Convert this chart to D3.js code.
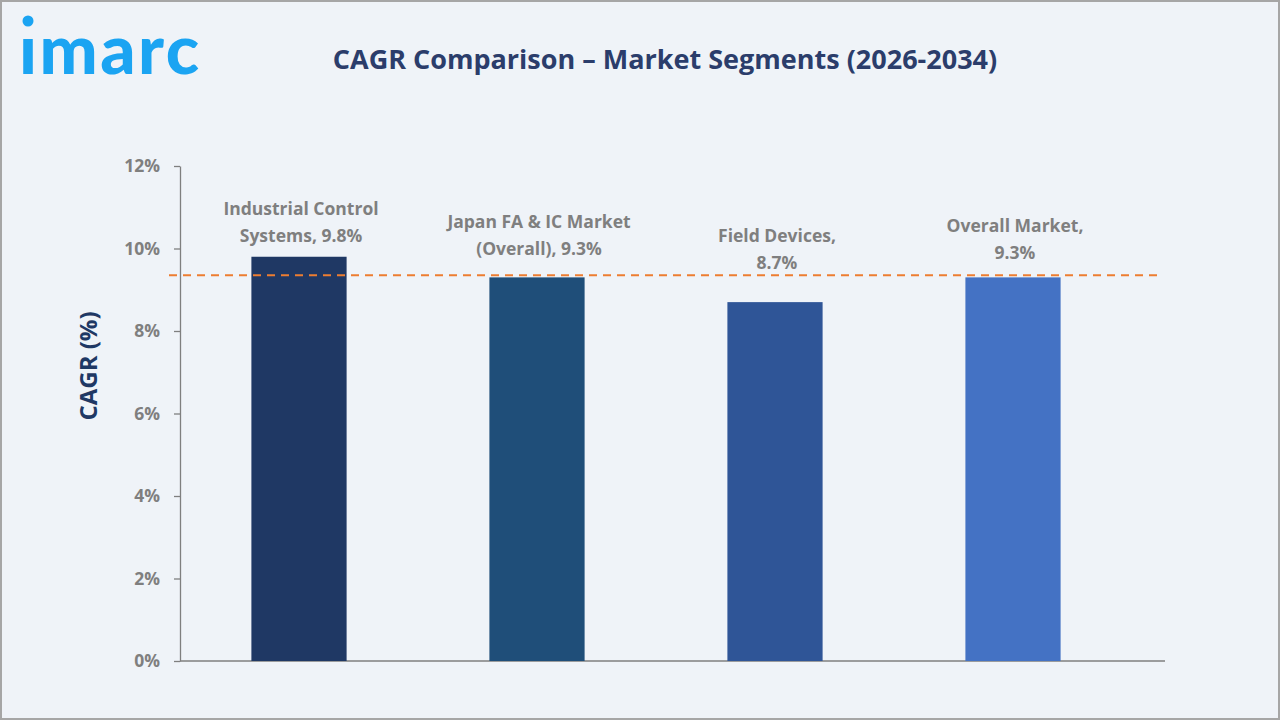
<!DOCTYPE html>
<html>
<head>
<meta charset="utf-8">
<script src="https://cdn.jsdelivr.net/npm/d3@7"></script>
<style>
  html, body { margin: 0; padding: 0; background: #eff3f8; }
  svg { display: block; }
</style>
</head>
<body>
<div id="chart"></div>
<script>
// ── data ─────────────────────────────────────────────
const segments = [
    ['Industrial Control', 'Systems, 9.8%'],
    ['Japan FA & IC Market', '(Overall), 9.3%'],
    ['Field Devices,', '8.7%'],
    ['Overall Market,', '9.3%']
];
const cagrValues = [9.8, 9.3, 8.7, 9.3];
const referenceCagr = 9.35;
const yTicks = [0, 2, 4, 6, 8, 10, 12];

const barColors = ['#1f3864', '#1f4e79', '#2f5597', '#4472c4'];
const labelGap = [21, 28, 39, 24];   // excel labels were nudged by hand

const W = 1280, H = 720;
const FONT = "'Open Sans', 'DejaVu Sans', sans-serif";

const svg = d3.select('#chart').append('svg').attr('width', W).attr('height', H);

svg.append('rect')
    .attr('x', 1).attr('y', 1).attr('width', W - 2).attr('height', H - 2)
    .attr('fill', '#eff3f8').attr('stroke', '#a6a6a6').attr('stroke-width', 2);

// logo
const logo = svg.append('g').attr('fill', '#1ba4f2');
logo.append('circle').attr('cx', 28).attr('cy', 21).attr('r', 5.5);
logo.append('text')
    .attr('x', 19).attr('y', 74)
    .attr('font-family', "Lato, 'Open Sans', sans-serif").attr('font-weight', 900)
    .attr('font-size', 69).attr('letter-spacing', 2.5)
    .text('\u0131marc');

// title
svg.append('text')
    .attr('x', 665).attr('y', 69)
    .attr('text-anchor', 'middle')
    .attr('font-family', FONT).attr('font-weight', 700).attr('font-size', 27)
    .attr('fill', '#2b3d6b')
    .text('CAGR Comparison \u2013 Market Segments (2026-2034)');

// scales
const x = d3.scaleBand().domain(d3.range(segments.length)).range([180, 1132]).paddingInner(0.6).paddingOuter(0.3);
const y = d3.scaleLinear().domain([0, 12]).range([661, 166]);

// y axis
const yAxis = svg.append('g')
    .attr('transform', 'translate(180,0)')
    .call(d3.axisLeft(y).tickValues(yTicks).tickFormat(d => d + '%').tickSize(6).tickSizeOuter(0));
yAxis.select('.domain').attr('stroke', '#7f7f7f').attr('stroke-width', 1.3);
yAxis.selectAll('.tick line').attr('stroke', '#7f7f7f').attr('stroke-width', 1.3);
yAxis.selectAll('.tick text')
    .attr('x', -20)
    .attr('fill', '#7f7f7f').attr('font-family', FONT).attr('font-weight', 700).attr('font-size', 17.5);

// x axis line
svg.append('line')
    .attr('x1', 180).attr('x2', 1165).attr('y1', y(0)).attr('y2', y(0))
    .attr('stroke', '#7f7f7f').attr('stroke-width', 1.5);

// y axis title
svg.append('text')
    .attr('transform', 'translate(97,366) rotate(-90)')
    .attr('text-anchor', 'middle')
    .attr('font-family', FONT).attr('font-weight', 700).attr('font-size', 24)
    .attr('fill', '#1f3864')
    .text('CAGR (%)');

// bars
svg.selectAll('.bar')
    .data(cagrValues)
    .join('rect')
    .attr('class', 'bar')
    .attr('x', (d, i) => x(i))
    .attr('y', d => y(d))
    .attr('width', x.bandwidth())
    .attr('height', d => y(0) - y(d))
    .attr('fill', (d, i) => barColors[i]);

// reference line
svg.append('line')
    .attr('x1', 169).attr('x2', 1160)
    .attr('y1', y(referenceCagr)).attr('y2', y(referenceCagr))
    .attr('stroke', '#ed7d31').attr('stroke-width', 2)
    .attr('stroke-dasharray', '8,6');

// data labels
const labels = svg.selectAll('.lbl')
    .data(segments)
    .join('text')
    .attr('class', 'lbl')
    .attr('text-anchor', 'middle')
    .attr('font-family', FONT).attr('font-weight', 700).attr('font-size', 17.5)
    .attr('fill', '#7f7f7f');

labels.each(function (lines, i) {
    const cx = x(i) + x.bandwidth() / 2 + 2;
    const top = y(cagrValues[i]) - labelGap[i];
    d3.select(this).selectAll('tspan')
        .data(lines)
        .join('tspan')
        .attr('x', cx)
        .attr('y', (l, j) => top - (lines.length - 1 - j) * 27 + 6)
        .text(l => l);
});
</script>
</body>
</html>
